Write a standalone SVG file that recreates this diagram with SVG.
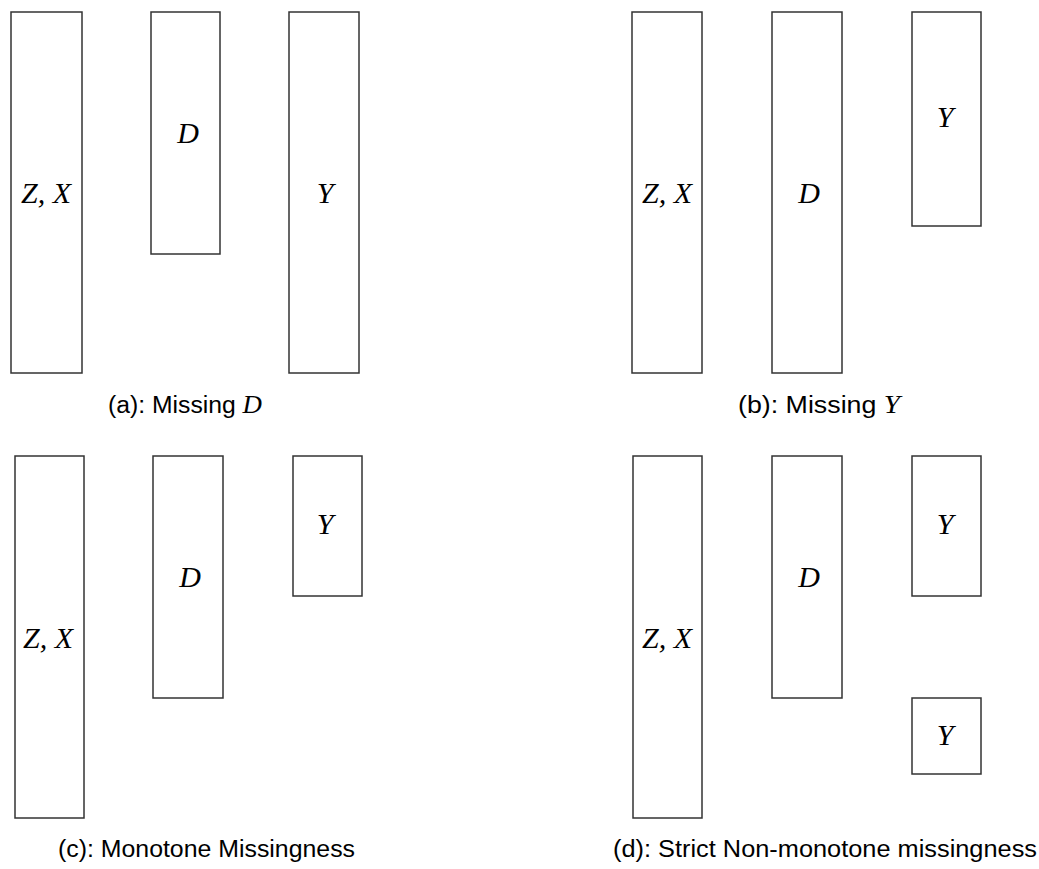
<svg xmlns="http://www.w3.org/2000/svg" width="1039" height="869" viewBox="0 0 1039 869">
<style>
  .box { fill: #ffffff; stroke: #333333; stroke-width: 1.5; }
  .math { font-family: "Liberation Serif", "DejaVu Serif", serif; font-style: italic; font-size: 30px; fill: #000; text-anchor: middle; }
  .cap { font-family: "Liberation Sans", Arial, sans-serif; font-size: 23px; fill: #000; }
  .capm { font-family: "Liberation Serif", serif; font-style: italic; font-size: 25px; }
</style>
<rect width="1039" height="869" fill="#ffffff"/>
<g id="connectors"/>

<!-- Panel (a) -->
<g id="a-zx"><rect class="box" x="11" y="12" width="71" height="361"/><text class="math" x="46" y="203">Z, X</text></g>
<g id="a-d"><rect class="box" x="151" y="12" width="69" height="242"/><text class="math" x="188" y="143">D</text></g>
<g id="a-y"><rect class="box" x="289" y="12" width="70" height="361"/><text class="math" x="325" y="203">Y</text></g>
<g id="a-caption"><text class="cap" x="108" y="413" textLength="154" lengthAdjust="spacingAndGlyphs">(a): Missing <tspan class="capm">D</tspan></text></g>

<!-- Panel (b) -->
<g id="b-zx"><rect class="box" x="632" y="12" width="70" height="361"/><text class="math" x="667" y="203">Z, X</text></g>
<g id="b-d"><rect class="box" x="772" y="12" width="70" height="361"/><text class="math" x="809" y="203">D</text></g>
<g id="b-y"><rect class="box" x="912" y="12" width="69" height="214"/><text class="math" x="945" y="127">Y</text></g>
<g id="b-caption"><text class="cap" x="738" y="413" textLength="162" lengthAdjust="spacingAndGlyphs">(b): Missing <tspan class="capm">Y</tspan></text></g>

<!-- Panel (c) -->
<g id="c-zx"><rect class="box" x="15" y="456" width="69" height="362"/><text class="math" x="48" y="648">Z, X</text></g>
<g id="c-d"><rect class="box" x="153" y="456" width="70" height="242"/><text class="math" x="190" y="587">D</text></g>
<g id="c-y"><rect class="box" x="293" y="456" width="69" height="140"/><text class="math" x="325" y="534">Y</text></g>
<g id="c-caption"><text class="cap" x="58" y="857" textLength="297" lengthAdjust="spacingAndGlyphs">(c): Monotone Missingness</text></g>

<!-- Panel (d) -->
<g id="d-zx"><rect class="box" x="633" y="456" width="69" height="362"/><text class="math" x="667" y="648">Z, X</text></g>
<g id="d-d"><rect class="box" x="772" y="456" width="70" height="242"/><text class="math" x="809" y="587">D</text></g>
<g id="d-y1"><rect class="box" x="912" y="456" width="69" height="140"/><text class="math" x="945" y="534">Y</text></g>
<g id="d-y2"><rect class="box" x="912" y="698" width="69" height="76"/><text class="math" x="945" y="745">Y</text></g>
<g id="d-caption"><text class="cap" x="613" y="857" textLength="424" lengthAdjust="spacingAndGlyphs">(d): Strict Non-monotone missingness</text></g>
</svg>
